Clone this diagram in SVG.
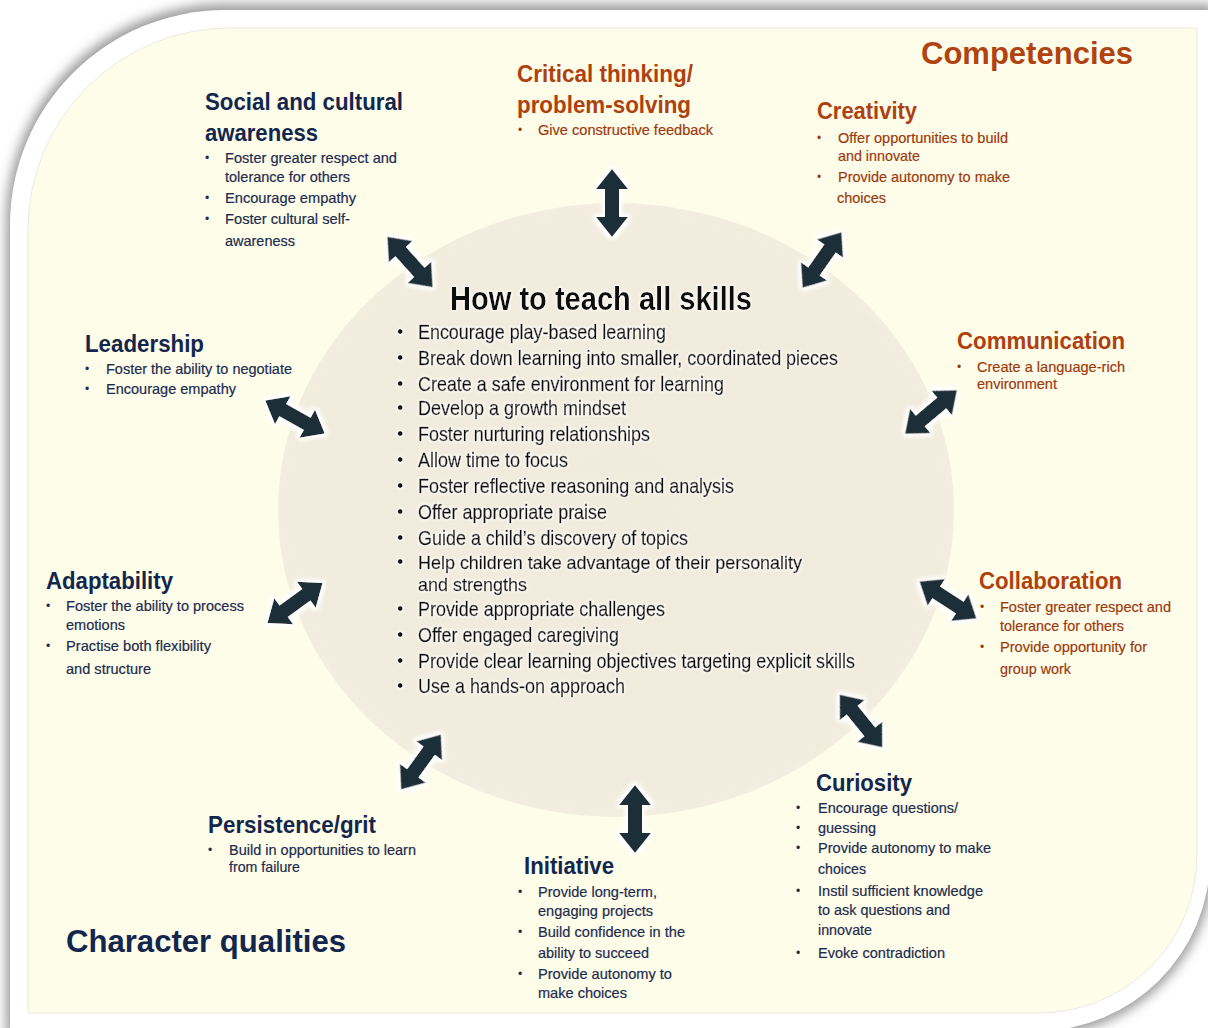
<svg xmlns="http://www.w3.org/2000/svg" xmlns:xlink="http://www.w3.org/1999/xlink" width="1208" height="1028" viewBox="0 0 1208 1028">
<style>
text{font-family:"Liberation Sans",Arial,sans-serif}
.hn{font-weight:bold;font-size:24px;fill:#13264d}
.ho{font-weight:bold;font-size:24px;fill:#ae410f}
.bn{font-size:15px;fill:#1c2c50;stroke:#1c2c50;stroke-width:0.2}
.bo{font-size:15px;fill:#9c3a0e;stroke:#9c3a0e;stroke-width:0.2}
.dn{font-size:12px;fill:#1c2c50}
.do{font-size:12px;fill:#9c3a0e}
.ml{font-size:21px;fill:#111;stroke:#111;stroke-width:0.45}
.ms{font-size:19px;fill:#111;stroke:#111;stroke-width:0.45}
.md{font-size:18px;fill:#111}
.big{font-weight:bold;font-size:34px}
.arr{fill:#1d2e39}
</style>
<defs>
<filter id="shadow" x="-5%" y="-5%" width="110%" height="110%">
<feGaussianBlur stdDeviation="6"/>
</filter>
<filter id="glow" x="-40%" y="-40%" width="180%" height="180%">
<feMorphology in="SourceAlpha" operator="dilate" radius="3" result="d"/>
<feGaussianBlur in="d" stdDeviation="2" result="b"/>
<feFlood flood-color="#ffffff"/>
<feComposite in2="b" operator="in" result="g"/>
<feMerge><feMergeNode in="g"/><feMergeNode in="SourceGraphic"/></feMerge>
</filter>
<filter id="tglow" x="-5%" y="-5%" width="110%" height="110%">
<feMorphology in="SourceAlpha" operator="dilate" radius="1" result="d"/>
<feGaussianBlur in="d" stdDeviation="1" result="b"/>
<feFlood flood-color="#ffffff" flood-opacity="0.8"/>
<feComposite in2="b" operator="in" result="g"/>
<feMerge><feMergeNode in="g"/><feMergeNode in="SourceGraphic"/></feMerge>
</filter>
<radialGradient id="ell" cx="50%" cy="50%" r="50%">
<stop offset="0" stop-color="#f0ebdc"/>
<stop offset="0.97" stop-color="#f1ecdd"/>
<stop offset="1" stop-color="#f3efe0"/>
</radialGradient>
<path id="dbl" class="arr" d="M-34,0 L-14,-16 L-14,-7 L14,-7 L14,-16 L34,0 L14,16 L14,7 L-14,7 L-14,16 Z"/>
</defs>

<g id="frame">
<rect x="0" y="0" width="1208" height="1028" fill="#ffffff"/>
<path d="M6,225 A219,219 0 0 1 225,4 L1214,4 L1214,858 A178,178 0 0 1 1037,1036 L6,1036 Z" fill="#9a9a9a" filter="url(#shadow)"/>
<path d="M10,225 A215,215 0 0 1 225,10 L1210,10 L1210,858 A173,173 0 0 1 1037,1031 L10,1031 Z" fill="#ffffff"/>
<path d="M28,230 A202,202 0 0 1 230,28 L1197,28 L1197,855 A158,158 0 0 1 1039,1013 L28,1013 Z" fill="#fefde9" stroke="#e4e4dc" stroke-width="0.8"/>
</g>

<g id="center">
<ellipse cx="616" cy="510" rx="338" ry="307" fill="url(#ell)"/>
<g filter="url(#tglow)">
<text class="big" x="450" y="310" textLength="302" lengthAdjust="spacingAndGlyphs" fill="#111">How to teach all skills</text>
<g class="md">
<text x="397" y="338">•</text><text x="397" y="364">•</text><text x="397" y="390">•</text><text x="397" y="414">•</text><text x="397" y="440">•</text><text x="397" y="466">•</text><text x="397" y="492">•</text><text x="397" y="518">•</text><text x="397" y="544">•</text><text x="397" y="568">•</text><text x="397" y="615">•</text><text x="397" y="641">•</text><text x="397" y="667">•</text><text x="397" y="692">•</text>
</g>
<text class="ml" x="418" y="339" textLength="248" lengthAdjust="spacingAndGlyphs">Encourage play-based learning</text>
<text class="ml" x="418" y="365" textLength="420" lengthAdjust="spacingAndGlyphs">Break down learning into smaller, coordinated pieces</text>
<text class="ml" x="418" y="391" textLength="306" lengthAdjust="spacingAndGlyphs">Create a safe environment for learning</text>
<text class="ml" x="418" y="415" textLength="208" lengthAdjust="spacingAndGlyphs">Develop a growth mindset</text>
<text class="ml" x="418" y="441" textLength="232" lengthAdjust="spacingAndGlyphs">Foster nurturing relationships</text>
<text class="ml" x="418" y="467" textLength="150" lengthAdjust="spacingAndGlyphs">Allow time to focus</text>
<text class="ml" x="418" y="493" textLength="316" lengthAdjust="spacingAndGlyphs">Foster reflective reasoning and analysis</text>
<text class="ml" x="418" y="519" textLength="189" lengthAdjust="spacingAndGlyphs">Offer appropriate praise</text>
<text class="ml" x="418" y="545" textLength="270" lengthAdjust="spacingAndGlyphs">Guide a child’s discovery of topics</text>
<text class="ms" x="418" y="569" textLength="384" lengthAdjust="spacingAndGlyphs">Help children take advantage of their personality</text>
<text class="ms" x="418" y="591" textLength="109" lengthAdjust="spacingAndGlyphs">and strengths</text>
<text class="ml" x="418" y="616" textLength="247" lengthAdjust="spacingAndGlyphs">Provide appropriate challenges</text>
<text class="ml" x="418" y="642" textLength="201" lengthAdjust="spacingAndGlyphs">Offer engaged caregiving</text>
<text class="ml" x="418" y="668" textLength="437" lengthAdjust="spacingAndGlyphs">Provide clear learning objectives targeting explicit skills</text>
<text class="ml" x="418" y="693" textLength="207" lengthAdjust="spacingAndGlyphs">Use a hands-on approach</text>
</g>
</g>

<g id="labels">
<text x="921" y="64" font-weight="bold" font-size="32" fill="#b0430f" textLength="212" lengthAdjust="spacingAndGlyphs">Competencies</text>
<text x="66" y="952" font-weight="bold" font-size="32" fill="#13264d" textLength="280" lengthAdjust="spacingAndGlyphs">Character qualities</text>
</g>

<g id="social">
<text class="hn" x="205" y="110" textLength="198" lengthAdjust="spacingAndGlyphs">Social and cultural</text>
<text class="hn" x="205" y="141" textLength="113" lengthAdjust="spacingAndGlyphs">awareness</text>
<text class="dn" x="205" y="162">•</text><text class="bn" x="225" y="163" textLength="172" lengthAdjust="spacingAndGlyphs">Foster greater respect and</text>
<text class="bn" x="225" y="182" textLength="125" lengthAdjust="spacingAndGlyphs">tolerance for others</text>
<text class="dn" x="205" y="202">•</text><text class="bn" x="225" y="203" textLength="131" lengthAdjust="spacingAndGlyphs">Encourage empathy</text>
<text class="dn" x="205" y="223">•</text><text class="bn" x="225" y="224" textLength="125" lengthAdjust="spacingAndGlyphs">Foster cultural self-</text>
<text class="bn" x="225" y="246" textLength="70" lengthAdjust="spacingAndGlyphs">awareness</text>
</g>

<g id="critical">
<text class="ho" x="517" y="82" textLength="176" lengthAdjust="spacingAndGlyphs">Critical thinking/</text>
<text class="ho" x="517" y="113" textLength="174" lengthAdjust="spacingAndGlyphs">problem-solving</text>
<text class="do" x="518" y="134">•</text><text class="bo" x="538" y="135" textLength="175" lengthAdjust="spacingAndGlyphs">Give constructive feedback</text>
</g>

<g id="creativity">
<text class="ho" x="817" y="119" textLength="100" lengthAdjust="spacingAndGlyphs">Creativity</text>
<text class="do" x="817" y="142">•</text><text class="bo" x="838" y="143" textLength="170" lengthAdjust="spacingAndGlyphs">Offer opportunities to build</text>
<text class="bo" x="838" y="161" textLength="82" lengthAdjust="spacingAndGlyphs">and innovate</text>
<text class="do" x="817" y="181">•</text><text class="bo" x="838" y="182" textLength="172" lengthAdjust="spacingAndGlyphs">Provide autonomy to make</text>
<text class="bo" x="837" y="203" textLength="49" lengthAdjust="spacingAndGlyphs">choices</text>
</g>

<g id="communication">
<text class="ho" x="957" y="349" textLength="168" lengthAdjust="spacingAndGlyphs">Communication</text>
<text class="do" x="957" y="371">•</text><text class="bo" x="977" y="372" textLength="148" lengthAdjust="spacingAndGlyphs">Create a language-rich</text>
<text class="bo" x="977" y="389" textLength="80" lengthAdjust="spacingAndGlyphs">environment</text>
</g>

<g id="collaboration">
<text class="ho" x="979" y="589" textLength="143" lengthAdjust="spacingAndGlyphs">Collaboration</text>
<text class="do" x="980" y="611">•</text><text class="bo" x="1000" y="612" textLength="171" lengthAdjust="spacingAndGlyphs">Foster greater respect and</text>
<text class="bo" x="1000" y="631" textLength="124" lengthAdjust="spacingAndGlyphs">tolerance for others</text>
<text class="do" x="980" y="651">•</text><text class="bo" x="1000" y="652" textLength="147" lengthAdjust="spacingAndGlyphs">Provide opportunity for</text>
<text class="bo" x="1000" y="674" textLength="71" lengthAdjust="spacingAndGlyphs">group work</text>
</g>

<g id="curiosity">
<text class="hn" x="816" y="791" textLength="96" lengthAdjust="spacingAndGlyphs">Curiosity</text>
<text class="dn" x="796" y="812">•</text><text class="bn" x="818" y="813" textLength="140" lengthAdjust="spacingAndGlyphs">Encourage questions/</text>
<text class="dn" x="796" y="832">•</text><text class="bn" x="818" y="833" textLength="58" lengthAdjust="spacingAndGlyphs">guessing</text>
<text class="dn" x="796" y="852">•</text><text class="bn" x="818" y="853" textLength="173" lengthAdjust="spacingAndGlyphs">Provide autonomy to make</text>
<text class="bn" x="818" y="874" textLength="48" lengthAdjust="spacingAndGlyphs">choices</text>
<text class="dn" x="796" y="895">•</text><text class="bn" x="818" y="896" textLength="165" lengthAdjust="spacingAndGlyphs">Instil sufficient knowledge</text>
<text class="bn" x="818" y="915" textLength="132" lengthAdjust="spacingAndGlyphs">to ask questions and</text>
<text class="bn" x="818" y="935" textLength="54" lengthAdjust="spacingAndGlyphs">innovate</text>
<text class="dn" x="796" y="957">•</text><text class="bn" x="818" y="958" textLength="127" lengthAdjust="spacingAndGlyphs">Evoke contradiction</text>
</g>

<g id="initiative">
<text class="hn" x="524" y="874" textLength="90" lengthAdjust="spacingAndGlyphs">Initiative</text>
<text class="dn" x="518" y="896">•</text><text class="bn" x="538" y="897" textLength="119" lengthAdjust="spacingAndGlyphs">Provide long-term,</text>
<text class="bn" x="538" y="916" textLength="115" lengthAdjust="spacingAndGlyphs">engaging projects</text>
<text class="dn" x="518" y="936">•</text><text class="bn" x="538" y="937" textLength="147" lengthAdjust="spacingAndGlyphs">Build confidence in the</text>
<text class="bn" x="538" y="958" textLength="111" lengthAdjust="spacingAndGlyphs">ability to succeed</text>
<text class="dn" x="518" y="978">•</text><text class="bn" x="538" y="979" textLength="134" lengthAdjust="spacingAndGlyphs">Provide autonomy to</text>
<text class="bn" x="538" y="998" textLength="89" lengthAdjust="spacingAndGlyphs">make choices</text>
</g>

<g id="persistence">
<text class="hn" x="208" y="833" textLength="168" lengthAdjust="spacingAndGlyphs">Persistence/grit</text>
<text class="dn" x="208" y="854">•</text><text class="bn" x="229" y="855" textLength="187" lengthAdjust="spacingAndGlyphs">Build in opportunities to learn</text>
<text class="bn" x="229" y="872" textLength="71" lengthAdjust="spacingAndGlyphs">from failure</text>
</g>

<g id="adaptability">
<text class="hn" x="46" y="589" textLength="127" lengthAdjust="spacingAndGlyphs">Adaptability</text>
<text class="dn" x="46" y="610">•</text><text class="bn" x="66" y="611" textLength="178" lengthAdjust="spacingAndGlyphs">Foster the ability to process</text>
<text class="bn" x="66" y="630" textLength="59" lengthAdjust="spacingAndGlyphs">emotions</text>
<text class="dn" x="46" y="650">•</text><text class="bn" x="66" y="651" textLength="145" lengthAdjust="spacingAndGlyphs">Practise both flexibility</text>
<text class="bn" x="66" y="674" textLength="85" lengthAdjust="spacingAndGlyphs">and structure</text>
</g>

<g id="leadership">
<text class="hn" x="85" y="352" textLength="119" lengthAdjust="spacingAndGlyphs">Leadership</text>
<text class="dn" x="85" y="373">•</text><text class="bn" x="106" y="374" textLength="186" lengthAdjust="spacingAndGlyphs">Foster the ability to negotiate</text>
<text class="dn" x="85" y="393">•</text><text class="bn" x="106" y="394" textLength="130" lengthAdjust="spacingAndGlyphs">Encourage empathy</text>
</g>

<g id="connectors" filter="url(#glow)">
<use xlink:href="#dbl" transform="translate(612,203) rotate(90)"/>
<use xlink:href="#dbl" transform="translate(410,262) rotate(48)"/>
<use xlink:href="#dbl" transform="translate(822,260) rotate(125)"/>
<use xlink:href="#dbl" transform="translate(295,417) rotate(29)"/>
<use xlink:href="#dbl" transform="translate(931,412) rotate(140)"/>
<use xlink:href="#dbl" transform="translate(295,603) rotate(-36)"/>
<use xlink:href="#dbl" transform="translate(948,600) rotate(33)"/>
<use xlink:href="#dbl" transform="translate(861,721) rotate(51)"/>
<use xlink:href="#dbl" transform="translate(635,819) rotate(90)"/>
<use xlink:href="#dbl" transform="translate(421,762) rotate(126)"/>
</g>
</svg>
